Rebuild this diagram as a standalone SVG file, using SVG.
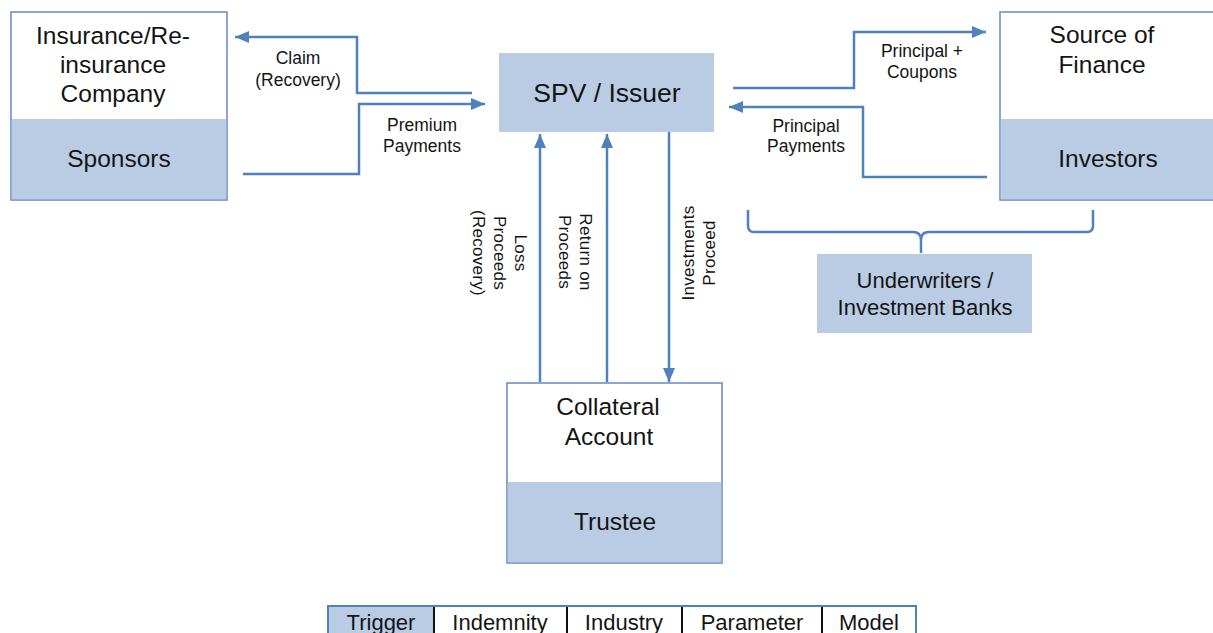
<svg xmlns="http://www.w3.org/2000/svg" width="1213" height="633" viewBox="0 0 1213 633">
  <style>
    text { font-family: "Liberation Sans", Arial, sans-serif; fill: #141414; }
    .box { fill: #ffffff; stroke: #6f8fc0; stroke-width: 1.6; }
    .band { fill: #b9cce4; }
    .plain { fill: #b9cce4; }
    .big { font-size: 24.5px; text-anchor: middle; }
    .spv { font-size: 26.5px; text-anchor: middle; }
    .mid { font-size: 22px; text-anchor: middle; }
    .lbl { font-size: 17.5px; text-anchor: middle; }
    .vl { font-size: 17px; text-anchor: middle; letter-spacing: 0.3px; }
    .flow { fill: none; stroke: #4f81bd; stroke-width: 2.5; }
    .cell { font-size: 22px; text-anchor: middle; }
  </style>
  <defs>
    <marker id="head" markerUnits="userSpaceOnUse" markerWidth="14" markerHeight="12" viewBox="0 0 14 12" refX="14" refY="6" orient="auto">
      <path d="M0,0 L14,6 L0,12 Z" fill="#4f81bd"/>
    </marker>
  </defs>

  <rect width="1213" height="633" fill="#ffffff"/>

  <!-- Insurance / Re-insurance company with Sponsors band -->
  <g id="sponsors">
    <rect class="box" x="11" y="12" width="216" height="188"/>
    <rect class="band" x="11.8" y="119" width="214.4" height="80.2"/>
    <text class="big" x="113" y="44">Insurance/Re-</text>
    <text class="big" x="113" y="73">insurance</text>
    <text class="big" x="113" y="102">Company</text>
    <text class="big" x="119" y="167">Sponsors</text>
  </g>

  <!-- SPV / Issuer -->
  <g id="spv">
    <rect class="plain" x="499" y="53" width="215" height="79"/>
    <text class="spv" x="607" y="102">SPV / Issuer</text>
  </g>

  <!-- Source of Finance with Investors band -->
  <g id="investors">
    <rect class="box" x="1000" y="12" width="216" height="188"/>
    <rect class="band" x="1000.8" y="119" width="214.4" height="80.2"/>
    <text class="big" x="1102" y="43">Source of</text>
    <text class="big" x="1102" y="73">Finance</text>
    <text class="big" x="1108" y="167">Investors</text>
  </g>

  <!-- Underwriters / Investment Banks -->
  <g id="underwriters">
    <rect class="plain" x="817" y="254" width="215" height="79"/>
    <text class="mid" x="925" y="288">Underwriters /</text>
    <text class="mid" x="925" y="315">Investment Banks</text>
  </g>

  <!-- Collateral Account with Trustee band -->
  <g id="trustee">
    <rect class="box" x="507" y="383" width="215" height="180"/>
    <rect class="band" x="507.8" y="482" width="213.4" height="80.2"/>
    <text class="big" x="608" y="415">Collateral</text>
    <text class="big" x="609" y="445">Account</text>
    <text class="big" x="615" y="530">Trustee</text>
  </g>

  <!-- Flows between parties -->
  <g id="connectors">
    <path class="flow" d="M472,93 H357 V37 H235" marker-end="url(#head)"/>
    <path class="flow" d="M243,174 H359 V104 H485" marker-end="url(#head)"/>
    <path class="flow" d="M733,88 H854 V32 H986" marker-end="url(#head)"/>
    <path class="flow" d="M987,177 H863 V107 H729" marker-end="url(#head)"/>
    <path class="flow" d="M540,382 V134" marker-end="url(#head)"/>
    <path class="flow" d="M607,382 V134" marker-end="url(#head)"/>
    <path class="flow" d="M669,132 V382" marker-end="url(#head)"/>
    <!-- brace grouping the underwriters under the investor side -->
    <path class="flow" d="M748,210 V226 Q748,232 754,232 H913 Q921,232 921,240 V253 M921,240 Q921,232 929,232 H1087 Q1093,232 1093,226 V210"/>

    <text class="lbl" x="298" y="64">Claim</text>
    <text class="lbl" x="298" y="86">(Recovery)</text>
    <text class="lbl" x="422" y="131">Premium</text>
    <text class="lbl" x="422" y="152">Payments</text>
    <text class="lbl" x="922" y="57">Principal +</text>
    <text class="lbl" x="922" y="78">Coupons</text>
    <text class="lbl" x="806" y="132">Principal</text>
    <text class="lbl" x="806" y="152">Payments</text>

    <text class="vl" transform="translate(515,253) rotate(90)">Loss</text>
    <text class="vl" transform="translate(494,253) rotate(90)">Proceeds</text>
    <text class="vl" transform="translate(473,253) rotate(90)">(Recovery)</text>
    <text class="vl" transform="translate(580,252) rotate(90)">Return on</text>
    <text class="vl" transform="translate(559,252) rotate(90)">Proceeds</text>
    <text class="vl" transform="translate(694,253) rotate(-90)">Investments</text>
    <text class="vl" transform="translate(715,253) rotate(-90)">Proceed</text>
  </g>

  <!-- Trigger type strip -->
  <g id="trigger-table">
    <rect x="328" y="606" width="106" height="40" fill="#b9cce4"/>
    <rect x="328" y="606" width="588" height="40" fill="none" stroke="#4f81bd" stroke-width="2"/>
    <path d="M434,607 V640 M567,607 V640 M682,607 V640 M822,607 V640" stroke="#111111" stroke-width="2"/>
    <text class="cell" x="381" y="630">Trigger</text>
    <text class="cell" x="500" y="630">Indemnity</text>
    <text class="cell" x="624" y="630">Industry</text>
    <text class="cell" x="752" y="630">Parameter</text>
    <text class="cell" x="869" y="630">Model</text>
  </g>
</svg>
